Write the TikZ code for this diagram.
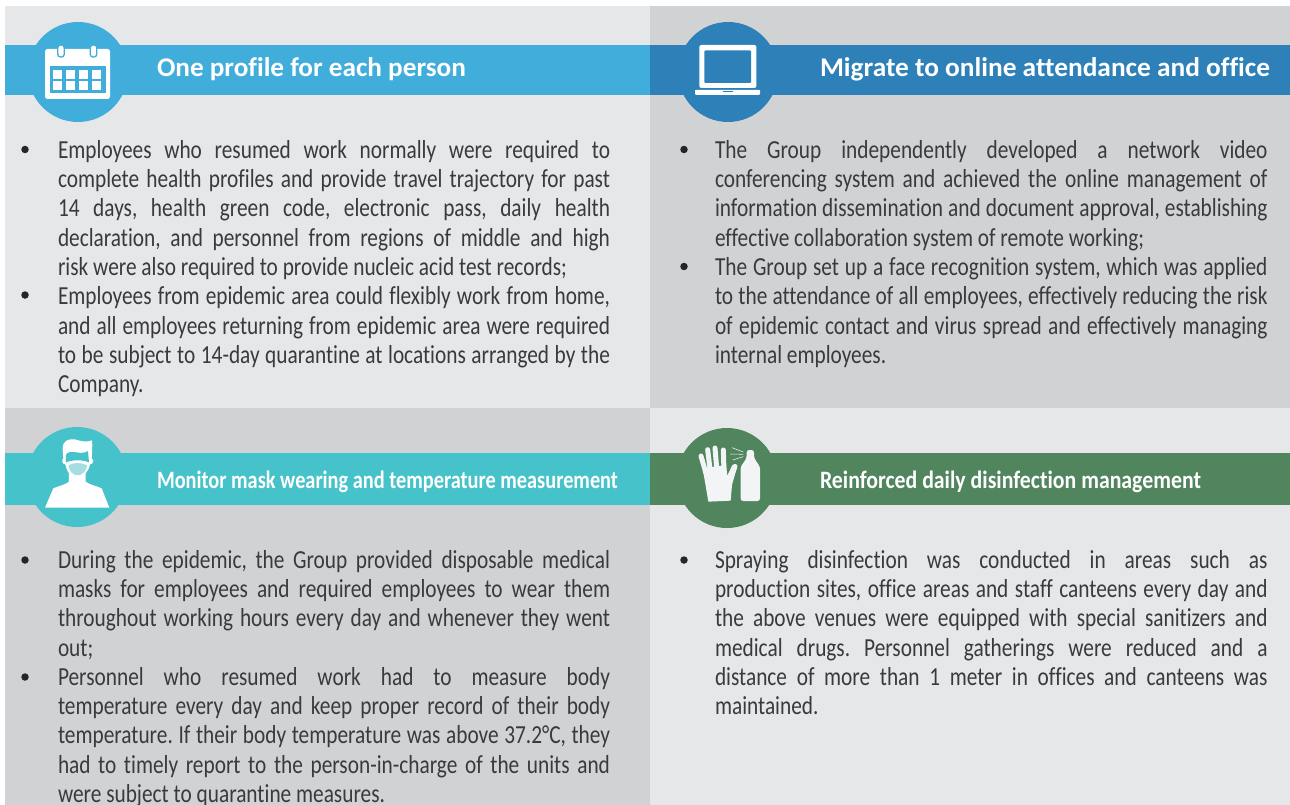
\documentclass[tikz,border=0pt]{standalone}
\usepackage{graphicx}
\usepackage{fontspec}
\setmainfont[Ligatures=NoCommon]{Carlito}
\definecolor{panL}{HTML}{E6E7E9}
\definecolor{panD}{HTML}{D1D2D4}
\definecolor{cBlue}{HTML}{41ADDB}
\definecolor{cDeep}{HTML}{2E80B9}
\definecolor{cTeal}{HTML}{46C3CA}
\definecolor{cGreen}{HTML}{50855E}
\definecolor{cMask}{HTML}{A6DDE1}
\definecolor{cGlove}{HTML}{F2F4F6}
\definecolor{cText}{HTML}{3A3A3C}
\frenchspacing
\newcommand\bodyscale{0.82}
\newsavebox\linebox
\newcommand\fitline[2]{%
  \sbox\linebox{#2}%
  \pgfmathsetmacro\tgt{#1/\bodyscale}%
  \ifdim\wd\linebox>\tgt pt\relax
    \pgfmathsetmacro\rr{#1/\the\wd\linebox}%
    \scalebox{\rr}[1]{\usebox\linebox}%
  \else
    \scalebox{\bodyscale}[1]{\hbox to \tgt pt{#2}}%
  \fi}
\newcommand\fitwidth[2]{%
  \sbox\linebox{#2}%
  \pgfmathsetmacro\rr{#1/\the\wd\linebox}%
  \scalebox{\rr}[1]{\usebox\linebox}}
\newcounter{tln}
\tikzset{
  tl/.style={anchor=base west,inner sep=0pt,outer sep=0pt,text=cText,font=\fontsize{26}{29}\selectfont},
  hd/.style={anchor=base west,inner sep=0pt,outer sep=0pt,text=white,font=\fontsize{27}{30}\bfseries\selectfont},
  hdb/.style={hd,font=\fontsize{25}{30}\bfseries\selectfont},
  bul/.style={circle,fill=black!85,inner sep=0pt,minimum size=7.5pt},
  disc/.style={circle,inner sep=0pt,minimum size=100pt},
}
\newcommand\jl[4]{\stepcounter{tln}\node[tl] (line\arabic{tln}) at (#2,#1) {\fitline{#3}{#4}};}
\newcommand\nl[3]{\stepcounter{tln}\node[tl] (line\arabic{tln}) at (#2,#1) {\scalebox{\bodyscale}[1]{#3}};}
\begin{document}
\begin{tikzpicture}[x=1pt,y=-1pt]
\useasboundingbox (0,0) rectangle (1290,805);
\fill[white] (0,0) rectangle (1290,805);
\fill[panL] (5,6) rectangle (650,408);
\fill[panD] (650,6) rectangle (1290,408);
\fill[panD] (5,408) rectangle (650,805);
\fill[panL] (650,408) rectangle (1290,805);
% bands
\fill[cBlue] (5,45) rectangle (650,95);
\fill[cDeep] (650,45) rectangle (1290,95);
\fill[cTeal] (5,453) rectangle (650,505);
\fill[cGreen] (650,453) rectangle (1290,505);
\node[disc,fill=cBlue] (d1) at (78,72) {};
\node[disc,fill=cDeep] (d2) at (728,72) {};
\node[disc,fill=cTeal] (d3) at (77,477) {};
\node[disc,fill=cGreen] (d4) at (727,478) {};
% calendar
\fill[white,rounded corners=2.5pt] (45,49) rectangle (110,99);
\fill[cBlue] (50,66) rectangle (105.5,93);
\foreach \cx in {53,66,79,92}\foreach \cy in {70,81}
  \fill[white] (\cx,\cy) rectangle ++(9,9);
\foreach \cx in {61,93.5}
  \draw[cBlue,fill=white,line width=1.3pt,rounded corners=2.6pt] (\cx-3.2,45) rectangle (\cx+3.2,57);
% laptop
\fill[white,rounded corners=1.5pt] (699.3,45) rectangle (756.3,88);
\fill[cDeep,rounded corners=1pt] (704.3,50.5) rectangle (751,83);
\fill[white,rounded corners=1.2pt] (695,90) rectangle (760,95);
\fill[white] (695,90) rectangle (760,92);
\fill[cDeep] (722.7,91) rectangle (733,92.3);
% person
\begin{scope}[shift={(0,405)},x=0.33333pt,y=-0.33333pt]
\fill[white] (135,308) -- (160,250) .. controls (175,243) and (195,240) .. (207,230)
  -- (207,205) .. controls (200,195) and (198,185) .. (196,178) .. controls (186,178) and (184,165) .. (190,160)
  -- (188,130) .. controls (188,108) and (205,100) .. (225,103) .. controls (245,110) and (262,112) .. (276,106)
  .. controls (278,125) and (276,145) .. (275,160) .. controls (283,165) and (280,178) .. (270,178)
  .. controls (268,190) and (262,198) .. (257,205) -- (257,230) .. controls (270,240) and (290,243) .. (305,250) -- (328,308) -- cycle;
\fill[cTeal] (198,172) -- (198,150) .. controls (200,140) and (215,140) .. (230,142) .. controls (245,146) and (258,142) .. (264,138)
  -- (267,172) .. controls (250,164) and (215,164) .. (198,172) -- cycle;
\fill[cMask] (205,181) .. controls (220,172) and (245,172) .. (262,181) .. controls (258,200) and (245,211) .. (233,211) .. controls (220,211) and (208,200) .. (205,181) -- cycle;
\end{scope}
% glove and spray
\begin{scope}[shift={(640,405)},x=0.33333pt,y=-0.33333pt]
\fill[cGlove] (188,190) -- (205,290) -- (272,287) -- (276,240) -- (290,190) -- (277,180) -- (262,212) -- (258,180) -- cycle;
\foreach \ax/\ay/\bx/\by in {183/153/198/205,203/134/211/200,225/129/231/200,250/135/252/200,285/184/268/230}
  \draw[cGlove,line width=5pt,line cap=round] (\ax,\ay) -- (\bx,\by);
\fill[cGlove,rounded corners=2.5pt] (302,288) -- (302,185) -- (314,168) -- (320,158) -- (320,135) -- (342,135) -- (342,158) -- (348,168) -- (360,185) -- (360,288) -- cycle;
\draw[cGlove,line width=0.55pt] (310,141) -- (276,128) (310,148) -- (271,147) (310,155) -- (278,165);
\end{scope}
% headers
\node[hd] (h1) at (157,77) {\fitwidth{309}{One profile for each person}};
\node[hd] (h2) at (820,77) {\fitwidth{450}{Migrate to online attendance and office}};
\node[hdb] (h3) at (157,488) {\fitwidth{461}{Monitor mask wearing and temperature measurement}};
\node[hdb] (h4) at (820,488) {\fitwidth{381}{Reinforced daily disinfection management}};
% bullets
\node[bul] (b1) at (25,149.5) {};
\node[bul] (b2) at (25,295) {};
\node[bul] (b3) at (684,149.5) {};
\node[bul] (b4) at (684,266.5) {};
\node[bul] (b5) at (25,560) {};
\node[bul] (b6) at (25,677) {};
\node[bul] (b7) at (684,560) {};
% top left
\jl{159}{58}{552}{Employees who resumed work normally were required to}
\jl{188}{58}{552}{complete health profiles and provide travel trajectory for past}
\jl{217}{58}{552}{14 days, health green code, electronic pass, daily health}
\jl{246.3}{58}{552}{declaration, and personnel from regions of middle and high}
\nl{275.5}{58}{risk were also required to provide nucleic acid test records;}
\jl{304.5}{58}{552}{Employees from epidemic area could flexibly work from home,}
\jl{334}{58}{552}{and all employees returning from epidemic area were required}
\jl{363.3}{58}{552}{to be subject to 14-day quarantine at locations arranged by the}
\nl{392.6}{58}{Company.}
% top right
\jl{159}{715}{552.5}{The Group independently developed a network video}
\jl{188}{715}{552.5}{conferencing system and achieved the online management of}
\jl{217}{715}{552.5}{information dissemination and document approval, establishing}
\nl{246.3}{715}{effective collaboration system of remote working;}
\jl{275.5}{715}{552.5}{The Group set up a face recognition system, which was applied}
\jl{304.5}{715}{552.5}{to the attendance of all employees, effectively reducing the risk}
\jl{334}{715}{552.5}{of epidemic contact and virus spread and effectively managing}
\nl{363.3}{715}{internal employees.}
% bottom left
\jl{568.5}{58}{552}{During the epidemic, the Group provided disposable medical}
\jl{597.6}{58}{552}{masks for employees and required employees to wear them}
\jl{626.8}{58}{552}{throughout working hours every day and whenever they went}
\nl{656}{58}{out;}
\jl{685.3}{58}{552}{Personnel who resumed work had to measure body}
\jl{714.6}{58}{552}{temperature every day and keep proper record of their body}
\jl{743.9}{58}{552}{temperature. If their body temperature was above 37.2°C, they}
\jl{773.2}{58}{552}{had to timely report to the person-in-charge of the units and}
\nl{802.4}{58}{were subject to quarantine measures.}
% bottom right
\jl{568.5}{715}{552.5}{Spraying disinfection was conducted in areas such as}
\jl{597.6}{715}{552.5}{production sites, office areas and staff canteens every day and}
\jl{626.8}{715}{552.5}{the above venues were equipped with special sanitizers and}
\jl{656}{715}{552.5}{medical drugs. Personnel gatherings were reduced and a}
\jl{685.3}{715}{552.5}{distance of more than 1 meter in offices and canteens was}
\nl{714.6}{715}{maintained.}
\end{tikzpicture}
\end{document}
